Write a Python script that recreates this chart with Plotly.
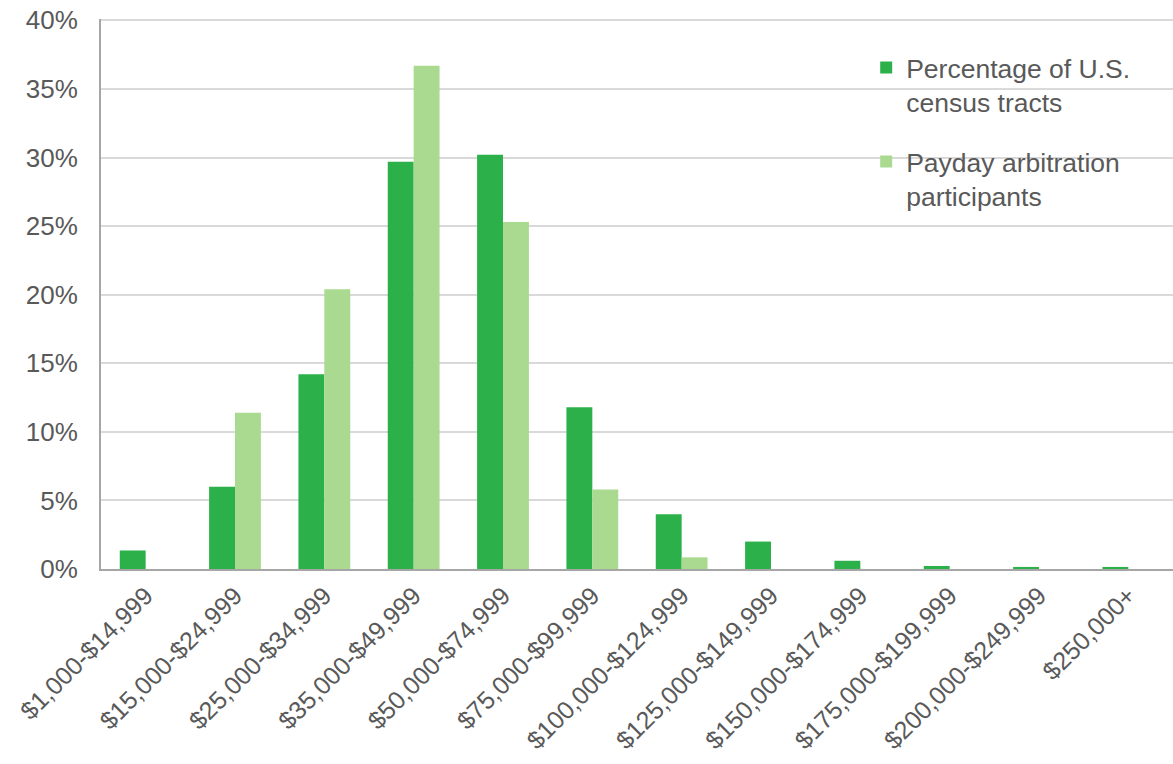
import plotly.graph_objects as go

categories = ["$1,000-$14,999", "$15,000-$24,999", "$25,000-$34,999", "$35,000-$49,999",
              "$50,000-$74,999", "$75,000-$99,999", "$100,000-$124,999", "$125,000-$149,999",
              "$150,000-$174,999", "$175,000-$199,999", "$200,000-$249,999", "$250,000+"]
census_tracts = [1.35, 6.0, 14.2, 29.7, 30.2, 11.8, 4.0, 2.0, 0.6, 0.22, 0.15, 0.15]
payday_participants = [0, 11.4, 20.4, 36.7, 25.3, 5.8, 0.85, 0, 0, 0, 0, 0]
y_ticks = [0, 5, 10, 15, 20, 25, 30, 35, 40]

FONT = "Liberation Sans, Arial, sans-serif"
GREY = "#595959"

fig = go.Figure()
fig.add_trace(go.Bar(x=categories, y=census_tracts, name="Percentage of U.S.<br>census tracts",
                     marker=dict(color="#2CB14A", line_width=0), legendgroup="a"))
fig.add_trace(go.Bar(x=categories, y=payday_participants, name="Payday arbitration<br>participants",
                     marker=dict(color="#A9DA8F", line_width=0), legendgroup="b"))

fig.update_layout(
    width=1173, height=764,
    margin=dict(l=101, r=0, t=19, b=195, autoexpand=False),
    paper_bgcolor="white", plot_bgcolor="white",
    barmode="group", bargap=0.42, bargroupgap=0,
    font=dict(family=FONT, color=GREY, size=26),
    showlegend=True,
    legend=dict(x=0.7138, y=0.955, xanchor="left", yanchor="top",
                bgcolor="rgba(0,0,0,0)", font=dict(size=26.5, color=GREY),
                tracegroupgap=22, valign="top", traceorder="grouped"),
)
fig.update_xaxes(type="category", tickangle=-45, showgrid=False, showline=True,
                 linecolor="#A6A6A6", linewidth=2, ticks="", automargin=False,
                 ticklabeloverflow="allow",
                 tickfont=dict(size=25, color=GREY, family=FONT))
fig.update_yaxes(range=[0, 40.1], tickvals=y_ticks, ticktext=[f"{v}%" for v in y_ticks],
                 showgrid=True, gridcolor="#D9D9D9", gridwidth=1.5,
                 showline=True, linecolor="#A6A6A6", linewidth=2, automargin=False,
                 zeroline=False, ticks="", ticklabelstandoff=16,
                 ticklabeloverflow="allow",
                 tickfont=dict(size=26, color=GREY, family=FONT))

fig.write_html("out.html", config={"displayModeBar": False},
               post_script="document.body.style.margin='0';document.body.style.overflow='hidden';")
